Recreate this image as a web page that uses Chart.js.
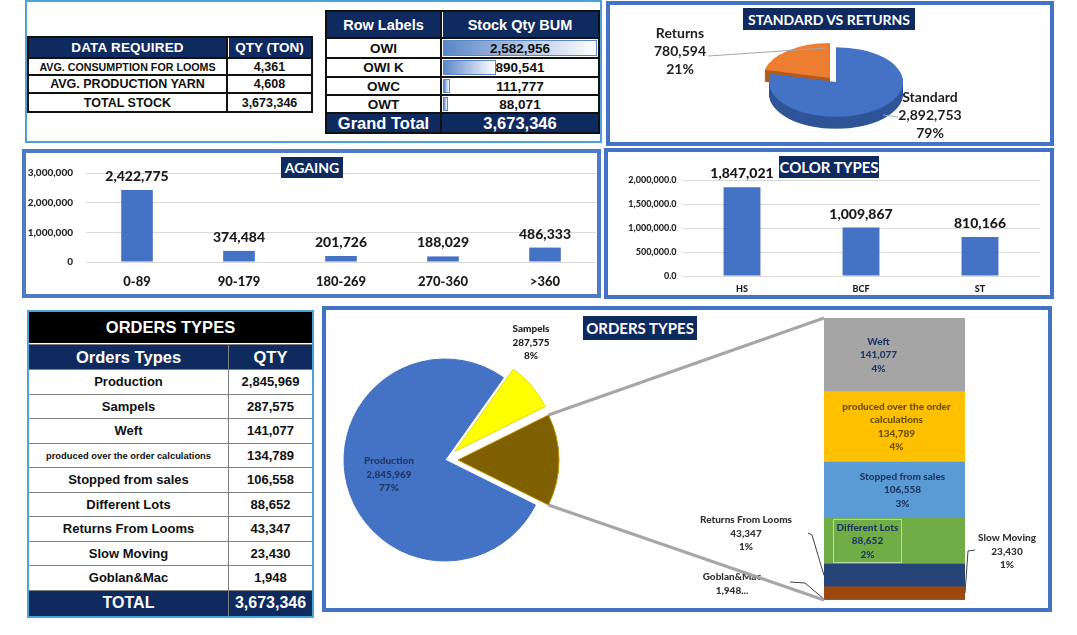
<!DOCTYPE html>
<html><head><meta charset="utf-8">
<script src="https://cdn.jsdelivr.net/npm/chart.js@4.4.1/dist/chart.umd.min.js"></script>
<style>
body{margin:0;background:#fff;width:1077px;height:635px;position:relative;overflow:hidden;font-family:"Liberation Sans",Arial,sans-serif;}
.panel{position:absolute;box-sizing:border-box;}
.title{position:absolute;background:#0f2a5e;color:#fff;font-family:Lato,sans-serif;font-weight:700;display:flex;align-items:center;justify-content:center;white-space:nowrap;z-index:5;box-sizing:border-box}
canvas{position:absolute;}
.grid{position:absolute;box-sizing:border-box;display:grid;}
.c{background:#fff;display:flex;align-items:center;justify-content:center;font-weight:bold;white-space:nowrap;overflow:hidden;color:#111;position:relative}
.hd{background:#0f2a5e;color:#fff}
.bar{position:absolute;left:1px;top:1px;bottom:1px;box-sizing:border-box;border:1px solid #5b87c8;background:linear-gradient(to right,#5b87c8,#ffffff);}
.c span{position:relative;z-index:2}
.preload{position:absolute;left:-999px;top:-999px;font-family:Lato;}
</style></head>
<body>
<span class="preload" style="font-weight:900">0123 Lato</span><span class="preload" style="font-weight:700">0123 Lato</span>
<div class="panel" style="left:25px;top:0;width:577px;height:143px;border:2px solid #4ba3da"></div>
<div class="panel" style="left:606px;top:1px;width:448px;height:145px;border:4px solid #4472c4"></div>
<div class="panel" style="left:22px;top:149px;width:579px;height:149px;border:4px solid #4f7ac8"></div>
<div class="panel" style="left:604px;top:148px;width:450px;height:151px;border:4px solid #4472c4"></div>
<div class="panel" style="left:322px;top:306px;width:730px;height:306px;border:4px solid #4472c4"></div>

<div id="t1" class="grid" style="left:27px;top:36px;width:286px;height:77px;grid-template-columns:197px 83px;grid-template-rows:19px 15px 16px 17px;gap:2px;padding:2px;background:#111"></div>
<div id="t2" class="grid" style="left:325px;top:10px;width:275px;height:124px;grid-template-columns:113px 156px;grid-template-rows:25px 18px 17px 16px 16px 18px;gap:2px;padding:2px;background:#111"></div>
<div id="t3" class="grid" style="left:27px;top:310px;width:287px;border:2px solid #4ba3da;grid-template-columns:199px 83px;grid-template-rows:32px 24px repeat(9,23.5px) 25px;gap:1px;background:#7f7f7f"></div>

<canvas id="pie1" width="440" height="137" style="left:610px;top:5px"></canvas>
<canvas id="aging" width="569" height="139" style="left:27px;top:154px"></canvas>
<canvas id="color" width="440" height="142" style="left:609px;top:153px"></canvas>
<canvas id="stack" width="358" height="298" style="left:690px;top:310px"></canvas>
<canvas id="pie2" width="722" height="298" style="left:326px;top:310px"></canvas>

<div class="title" style="left:743px;top:8px;width:172px;height:22px;font-size:14px">STANDARD VS RETURNS</div>
<div class="title" style="left:281px;top:157px;width:62px;height:21px;font-size:14px">AGAING</div>
<div class="title" style="left:779px;top:156px;width:100px;height:22px;font-size:15px">COLOR TYPES</div>
<div class="title" style="left:583px;top:316px;width:114px;height:24px;font-size:15px">ORDERS TYPES</div>

<script>
// ---------- DATA ----------
const dataReqLabels = ['AVG. CONSUMPTION FOR LOOMS','AVG. PRODUCTION YARN','TOTAL STOCK'];
const dataReqQty = [4361, 4608, 3673346];
const stockLabels = ['OWI','OWI K','OWC','OWT'];
const stockQty = [2582956, 890541, 111777, 88071];
const stockTotal = 3673346;
const stdRetLabels = ['Standard','Returns'];
const stdRetQty = [2892753, 780594];
const agingCats = ['0-89','90-179','180-269','270-360','>360'];
const agingQty = [2422775, 374484, 201726, 188029, 486333];
const colorCats = ['HS','BCF','ST'];
const colorQty = [1847021, 1009867, 810166];
const orderTypes = ['Production','Sampels','Weft','produced over the order calculations','Stopped from sales','Different Lots','Returns From Looms','Slow Moving','Goblan&Mac'];
const orderQty = [2845969, 287575, 141077, 134789, 106558, 88652, 43347, 23430, 1948];
const orderTotal = 3673346;

const fmt = v => v.toLocaleString('en-US');
const LBL = '900';

// ---------- TABLES ----------
document.getElementById('t1').innerHTML =
  '<div class="c hd" style="font-size:13.5px;letter-spacing:0.2px">DATA REQUIRED</div><div class="c hd" style="font-size:13.5px;box-shadow:inset 1px 0 0 #fff">QTY (TON)</div>' +
  dataReqLabels.map((l,i)=>`<div class="c" style="font-size:${i==0?10.7:12.5}px">${l}</div><div class="c" style="font-size:12.5px">${fmt(dataReqQty[i])}</div>`).join('');

const stockMax = Math.max(...stockQty);
document.getElementById('t2').innerHTML =
  '<div class="c hd" style="font-size:14.5px">Row Labels</div><div class="c hd" style="font-size:14.5px;box-shadow:inset 1px 0 0 #fff">Stock Qty BUM</div>' +
  stockLabels.map((l,i)=>`<div class="c" style="font-size:13.5px">${l}</div><div class="c" style="font-size:13.5px"><div class="bar" style="width:${(stockQty[i]/stockMax*154).toFixed(1)}px"></div><span>${fmt(stockQty[i])}</span></div>`).join('') +
  `<div class="c hd" style="font-size:16.5px">Grand Total</div><div class="c hd" style="font-size:16.5px">${fmt(stockTotal)}</div>`;

document.getElementById('t3').innerHTML =
  '<div class="c" style="grid-column:1 / span 2;background:#000;color:#fff;font-size:16.5px;border-bottom:1px solid #fff">ORDERS TYPES</div>' +
  '<div class="c hd" style="font-size:16.5px">Orders Types</div><div class="c hd" style="font-size:16.5px">QTY</div>' +
  orderTypes.map((l,i)=>`<div class="c" style="font-size:${l.length>30?9.4:13}px">${l}</div><div class="c" style="font-size:13px">${fmt(orderQty[i])}</div>`).join('') +
  `<div class="c hd" style="font-size:16px">TOTAL</div><div class="c hd" style="font-size:16px">${fmt(orderTotal)}</div>`;

// ---------- CHARTS ----------
Chart.defaults.font.family = 'Lato';
Chart.defaults.color = '#262626';

const barValues = {
  id:'barValues',
  afterDatasetsDraw(chart, args, o){
    const ctx = chart.ctx; const meta = chart.getDatasetMeta(0);
    ctx.save(); ctx.font = o.font; ctx.fillStyle = o.color; ctx.textAlign='center'; ctx.textBaseline='middle';
    meta.data.forEach((el,i)=>ctx.fillText(fmt(chart.data.datasets[0].data[i]), el.x, el.y - o.gap));
    ctx.restore();
  }
};

function barChart(id, labels, values, o){
  return new Chart(document.getElementById(id), {
    type:'bar',
    data:{labels, datasets:[{data:values, backgroundColor:'#4472c4', barPercentage:o.barPct, categoryPercentage:1}]},
    options:{responsive:false, animation:false, events:[], devicePixelRatio:1,
      layout:{padding:{left:0, right:o.padR, top:o.padT, bottom:0}},
      plugins:{legend:{display:false}, tooltip:{enabled:false}, barValues:{font:LBL+' 14px Lato', color:'#1a1a1a', gap:13.5}},
      scales:{
        x:{grid:{display:false, drawTicks:false}, border:{display:false},
           ticks:{font:{weight:LBL, size:o.xFont}, color:'#1a1a1a', padding:o.xPad},
           afterFit(s){ s.height = o.xH; }},
        y:{min:0, max:o.max, grid:{color:'#d9d9d9', drawTicks:false}, border:{display:false},
           ticks:{stepSize:o.step, font:{weight:LBL, size:o.yFont}, color:'#262626', padding:o.yPad, callback:o.yFmt},
           afterFit(s){ s.width = o.yW; }}
      }},
    plugins:[barValues]
  });
}

// pie drawing plugin: explode / tilt / depth
const pieStyle = {
  id:'pieStyle',
  beforeDatasetDraw(chart, args, o){
    const ctx = chart.ctx; const els = args.meta.data;
    const cx = els[0].x, cy = els[0].y; const tilt = o.tilt || 1;
    ctx.save();
    if (tilt !== 1){ ctx.translate(cx, cy); ctx.scale(1, tilt); ctx.translate(-cx, -cy); }
    const ex = i => { const el = els[i]; const h = (el.startAngle + el.endAngle)/2; const e = (o.explode||[])[i]||0; return [Math.cos(h)*e, Math.sin(h)*e]; };
    if (o.depth){
      for (let d = o.depth; d >= 1; d--){
        els.forEach((el,i)=>{
          const [dx,dy] = ex(i);
          ctx.save(); ctx.translate(dx, dy + d/tilt);
          ctx.beginPath(); ctx.moveTo(el.x, el.y); ctx.arc(el.x, el.y, el.outerRadius, el.startAngle, el.endAngle); ctx.closePath();
          ctx.fillStyle = o.sideColors[i]; ctx.fill(); ctx.restore();
        });
      }
    }
    els.forEach((el,i)=>{ const [dx,dy] = ex(i); ctx.save(); ctx.translate(dx,dy); el.draw(ctx); ctx.restore(); });
    ctx.restore();
    return false;
  }
};

function wrap(ctx, text, maxW){
  const words = text.split(' '); const lines = []; let cur = '';
  words.forEach(w=>{ const t = cur ? cur+' '+w : w; if (ctx.measureText(t).width > maxW && cur){ lines.push(cur); cur = w; } else cur = t; });
  lines.push(cur); return lines;
}

function build(){
barChart('aging', agingCats, agingQty, {barPct:0.31, padR:0, padT:12, xFont:13, xPad:12, xH:31, max:3000000, step:1000000, yFont:10, yPad:13, yW:59, yFmt:v=>fmt(v)});
barChart('color', colorCats, colorQty, {barPct:0.31, padR:9.5, padT:27, xFont:9, xPad:8, xH:19, max:2000000, step:500000, yFont:9, yPad:6, yW:73.5, yFmt:v=>v.toLocaleString('en-US',{minimumFractionDigits:1, maximumFractionDigits:1})});

// Standard vs Returns
const pie1Total = stdRetQty.reduce((a,b)=>a+b,0);
new Chart(document.getElementById('pie1'), {
  type:'pie',
  data:{labels:stdRetLabels, datasets:[{data:stdRetQty, backgroundColor:['#4472c4','#ed7d31'], borderWidth:0}]},
  options:{responsive:false, animation:false, events:[], devicePixelRatio:1, radius:67,
    layout:{padding:{left:12, right:0, top:17, bottom:0}},
    plugins:{legend:{display:false}, tooltip:{enabled:false},
      pieStyle:{explode:[0,10], tilt:0.52, depth:12, sideColors:['#2f5597','#b55b1f']}}},
  plugins:[pieStyle, {
    id:'pie1Labels',
    afterDraw(chart){
      const ctx = chart.ctx; const el = chart.getDatasetMeta(0).data[0]; const cx = el.x, cy = el.y;
      ctx.save();
      ctx.strokeStyle = '#a6a6a6'; ctx.lineWidth = 1;
      ctx.beginPath(); ctx.moveTo(cx-128, cy-26); ctx.lineTo(cx-10, cy-34); ctx.stroke();
      ctx.beginPath(); ctx.moveTo(cx+47, cy+33); ctx.lineTo(cx+62, cy+35); ctx.stroke();
      ctx.font = 'bold 14px Lato'; ctx.fillStyle = '#1f1f1f'; ctx.textAlign='center'; ctx.textBaseline='middle';
      const pos = [[cx+94, cy+15], [cx-156, cy-49]];
      stdRetLabels.forEach((l,i)=>{
        const [x,y] = pos[i];
        [l, fmt(stdRetQty[i]), Math.round(stdRetQty[i]/pie1Total*100)+'%'].forEach((t,k)=>ctx.fillText(t, x, y + k*18));
      });
      ctx.restore();
    }
  }]
});

// Stacked secondary bar (bar of pie)
const secColors = {'Weft':'#a5a5a5','produced over the order calculations':'#ffc000','Stopped from sales':'#5b9bd5','Different Lots':'#70ad47','Returns From Looms':'#264478','Slow Moving':'#9e480e','Goblan&Mac':'#636363'};
const secTypes = orderTypes.slice(2), secQty = orderQty.slice(2);
const secSum = secQty.reduce((a,b)=>a+b,0);
const stackSets = secTypes.map((t,i)=>({label:t, data:[secQty[i]], backgroundColor:secColors[t], borderWidth:0, barPercentage:1, categoryPercentage:1})).reverse();

const stackChart = new Chart(document.getElementById('stack'), {
  type:'bar',
  data:{labels:[''], datasets:stackSets},
  options:{responsive:false, animation:false, events:[], devicePixelRatio:1,
    layout:{padding:{left:134, right:83, top:8, bottom:8}},
    scales:{x:{display:false, stacked:true}, y:{display:false, stacked:true, min:0, max:secSum}},
    plugins:{legend:{display:false}, tooltip:{enabled:false},
      stackLabels:{items:{
        'Weft':{mode:'in', dx:-16, color:'#1f3864'},
        'produced over the order calculations':{mode:'in', dx:2, color:'#6b5000'},
        'Stopped from sales':{mode:'in', dx:8, color:'#1f3864'},
        'Different Lots':{mode:'in', dx:-27, color:'#1f3864', box:true},
        'Returns From Looms':{mode:'out', x:56, y:210, line:[[118,223],[122,225]], anchor:'leftMid'},
        'Goblan&Mac':{mode:'out', x:42, y:267, trunc:true, line:[[100,272],[115,273]], anchor:'leftBase'},
        'Slow Moving':{mode:'out', x:317, y:228, line:[[285,240],[278,241]], anchor:'rightMid'}
      }}}},
  plugins:[{
    id:'stackLabels',
    afterDatasetsDraw(chart, args, o){
      const ctx = chart.ctx; ctx.save();
      ctx.font = LBL+' 10px Lato'; ctx.textAlign='center'; ctx.textBaseline='middle';
      const lh = 13.5;
      chart.data.datasets.forEach((ds, di)=>{
        const cfg = o.items[ds.label]; if (!cfg) return;
        const el = chart.getDatasetMeta(di).data[0];
        const v = ds.data[0];
        let lines = wrap(ctx, ds.label, 125).concat([fmt(v)]);
        if (cfg.trunc) lines[lines.length-1] += '...'; else lines.push(Math.round(v/orderTotal*100)+'%');
        const midY = (el.y + el.base)/2;
        let x, y0;
        if (cfg.mode === 'in'){ x = el.x + cfg.dx; y0 = midY - (lines.length-1)*lh/2; ctx.fillStyle = cfg.color; }
        else {
          x = cfg.x; y0 = cfg.y; ctx.fillStyle = '#333333';
          const L = el.x - el.width/2, R = el.x + el.width/2;
          const end = cfg.anchor === 'leftMid' ? [L, midY] : cfg.anchor === 'leftBase' ? [L, el.base - 1] : [R, midY];
          ctx.strokeStyle = '#404040'; ctx.lineWidth = 1; ctx.beginPath();
          ctx.moveTo(cfg.line[0][0], cfg.line[0][1]); ctx.lineTo(cfg.line[1][0], cfg.line[1][1]); ctx.lineTo(end[0], end[1]); ctx.stroke();
        }
        lines.forEach((t,k)=>ctx.fillText(t, x, y0 + k*lh));
        if (cfg.box){ ctx.strokeStyle = 'rgba(255,255,255,0.55)'; ctx.strokeRect(x-34, y0-8, 68, (lines.length-1)*lh+16); }
      });
      ctx.restore();
    }
  }]
});

// Pie of pie (main pie)
const otherDeg = secSum / orderTotal * 360;
const pie2Data = [secSum, orderQty[0], orderQty[1]];
const pie2Labels = ['Other', orderTypes[0], orderTypes[1]];
new Chart(document.getElementById('pie2'), {
  type:'pie',
  data:{labels:pie2Labels, datasets:[{data:pie2Data, backgroundColor:['#7f6000','#4472c4','#ffff00'], borderColor:['#bf9000','#4472c4','#e6d800'], borderWidth:1}]},
  options:{responsive:false, animation:false, events:[], devicePixelRatio:1, radius:101, rotation:90 - otherDeg/2,
    layout:{padding:{left:0, right:484, top:2, bottom:0}},
    plugins:{legend:{display:false}, tooltip:{enabled:false}, pieStyle:{explode:[13,0,13]}}},
  plugins:[{
    id:'connectors',
    beforeDatasetsDraw(chart){
      const ctx = chart.ctx; const el = chart.getDatasetMeta(0).data[0];
      const h = (el.startAngle + el.endAngle)/2; const ox = el.x + Math.cos(h)*13, oy = el.y + Math.sin(h)*13;
      const R = el.outerRadius;
      const sc = document.getElementById('stack'), pc = chart.canvas;
      const dx = sc.offsetLeft - pc.offsetLeft, dy = sc.offsetTop - pc.offsetTop;
      const a = stackChart.chartArea;
      ctx.save(); ctx.strokeStyle = '#a6a6a6'; ctx.lineWidth = 3;
      ctx.beginPath(); ctx.moveTo(ox + Math.cos(el.startAngle)*R, oy + Math.sin(el.startAngle)*R); ctx.lineTo(a.left + dx, a.top + dy); ctx.stroke();
      ctx.beginPath(); ctx.moveTo(ox + Math.cos(el.endAngle)*R, oy + Math.sin(el.endAngle)*R); ctx.lineTo(a.left + dx, a.bottom + dy); ctx.stroke();
      ctx.restore();
    },
    afterDraw(chart){
      const ctx = chart.ctx; const el = chart.getDatasetMeta(0).data[0]; const cx = el.x, cy = el.y;
      ctx.save(); ctx.font = LBL+' 10px Lato'; ctx.textAlign='center'; ctx.textBaseline='middle';
      const pos = {1:[cx-56, cy+1, '#1f3864'], 2:[cx+86, cy-131, '#1f1f1f']};
      [1,2].forEach(i=>{
        const [x,y,c] = pos[i]; ctx.fillStyle = c;
        [pie2Labels[i], fmt(pie2Data[i]), Math.round(pie2Data[i]/orderTotal*100)+'%'].forEach((t,k)=>ctx.fillText(t, x, y + k*13.5));
      });
      ctx.restore();
    }
  }, pieStyle]
});
}
build();
</script>
</body></html>
